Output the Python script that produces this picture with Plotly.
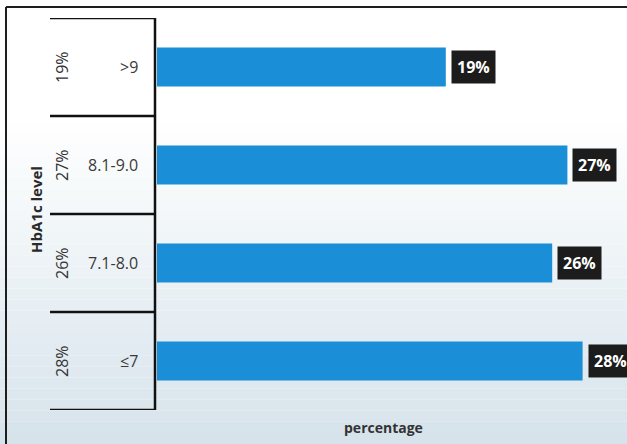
import plotly.graph_objects as go

# ---- data ----
categories = [">9", "8.1-9.0", "7.1-8.0", "≤7"]
values = [19, 27, 26, 28]
value_labels = ["19%", "27%", "26%", "28%"]
side_labels = ["19%", "27%", "26%", "28%"]
y_title = "HbA1c level"
x_title = "percentage"

W, H = 627, 444
X0_PX = 157          # pixel where x = 0
PX_PER_UNIT = 15.2
Y_TOP_PX, Y_BOT_PX = 18, 410

def px(xp):
    return xp / W

def py(yp):
    return 1 - yp / H

bar_color = "#1a8fd8"
font_family = "Open Sans, Noto Sans, DejaVu Sans, sans-serif"

fig = go.Figure()
fig.add_trace(go.Bar(
    x=values, y=categories, orientation="h",
    marker=dict(color=bar_color, line=dict(width=0)),
    width=0.4, hoverinfo="skip",
))

shapes = []
# background gradient bands (styling only)
n_bands = 40
for i in range(n_bands):
    y0 = i * H / n_bands
    y1 = (i + 1) * H / n_bands
    t = max(0.0, ((y0 + y1) / 2 - 120) / (H - 120))
    r = round(255 + (214 - 255) * t)
    g = round(255 + (227 - 255) * t)
    b = round(255 + (235 - 255) * t)
    shapes.append(dict(type="rect", xref="paper", yref="paper",
                       x0=0, x1=1, y0=py(y1), y1=py(y0),
                       fillcolor=f"rgb({r},{g},{b})", line=dict(width=0),
                       layer="below"))
# frame (top and left)
shapes.append(dict(type="line", xref="paper", yref="paper",
                   x0=px(6), x1=1, y0=py(7), y1=py(7),
                   line=dict(color="#1e1e1e", width=2)))
shapes.append(dict(type="line", xref="paper", yref="paper",
                   x0=px(6), x1=px(6), y0=py(7), y1=0,
                   line=dict(color="#1e1e1e", width=2)))
# vertical axis line
shapes.append(dict(type="line", xref="paper", yref="y",
                   x0=px(155), x1=px(155), y0=-0.5, y1=len(categories) - 0.5,
                   line=dict(color="#111111", width=2.5)))
# horizontal boundary lines
for k in range(len(categories) + 1):
    shapes.append(dict(type="line", xref="paper", yref="y",
                       x0=px(50), x1=px(156), y0=k - 0.5, y1=k - 0.5,
                       line=dict(color="#111111", width=2.5)))

annotations = []
for cat, v, lab, sl in zip(categories, values, value_labels, side_labels):
    annotations.append(dict(x=v, y=cat, xref="x", yref="y", text=f"<b>{lab}</b>",
                            showarrow=False, xanchor="left", yanchor="middle", xshift=5,
                            bgcolor="#1c1c1c", borderpad=5,
                            font=dict(color="white", size=16, family=font_family)))
    annotations.append(dict(x=px(140), y=cat, xref="paper", yref="y", text=cat,
                            showarrow=False, xanchor="right", yanchor="middle",
                            font=dict(color="#3a3a3a", size=16, family=font_family)))
    annotations.append(dict(x=px(62), y=cat, xref="paper", yref="y", text=sl,
                            showarrow=False, textangle=-90,
                            xanchor="center", yanchor="middle",
                            font=dict(color="#333333", size=16, family=font_family)))
annotations.append(dict(x=px(36), y=py(210), xref="paper", yref="paper",
                        text=f"<b>{y_title}</b>", showarrow=False, textangle=-90,
                        xanchor="center", yanchor="middle",
                        font=dict(color="#2a2a2a", size=15, family=font_family)))
annotations.append(dict(x=px(383), y=py(427), xref="paper", yref="paper",
                        text=f"<b>{x_title}</b>", showarrow=False,
                        xanchor="center", yanchor="middle",
                        font=dict(color="#333333", size=14, family=font_family)))

fig.update_layout(
    width=W, height=H,
    margin=dict(l=0, r=0, t=0, b=0),
    paper_bgcolor="white", plot_bgcolor="rgba(0,0,0,0)",
    showlegend=False,
    xaxis=dict(domain=[px(X0_PX), 1], range=[0, (W - X0_PX) / PX_PER_UNIT],
               showgrid=False, zeroline=False, showline=False,
               showticklabels=False, ticks=""),
    yaxis=dict(domain=[py(Y_BOT_PX), py(Y_TOP_PX)], type="category",
               categoryorder="array", categoryarray=categories[::-1],
               range=[-0.5, len(categories) - 0.5],
               showgrid=False, zeroline=False, showline=False,
               showticklabels=False, ticks=""),
    shapes=shapes, annotations=annotations,
)

fig.write_html("out.html")
